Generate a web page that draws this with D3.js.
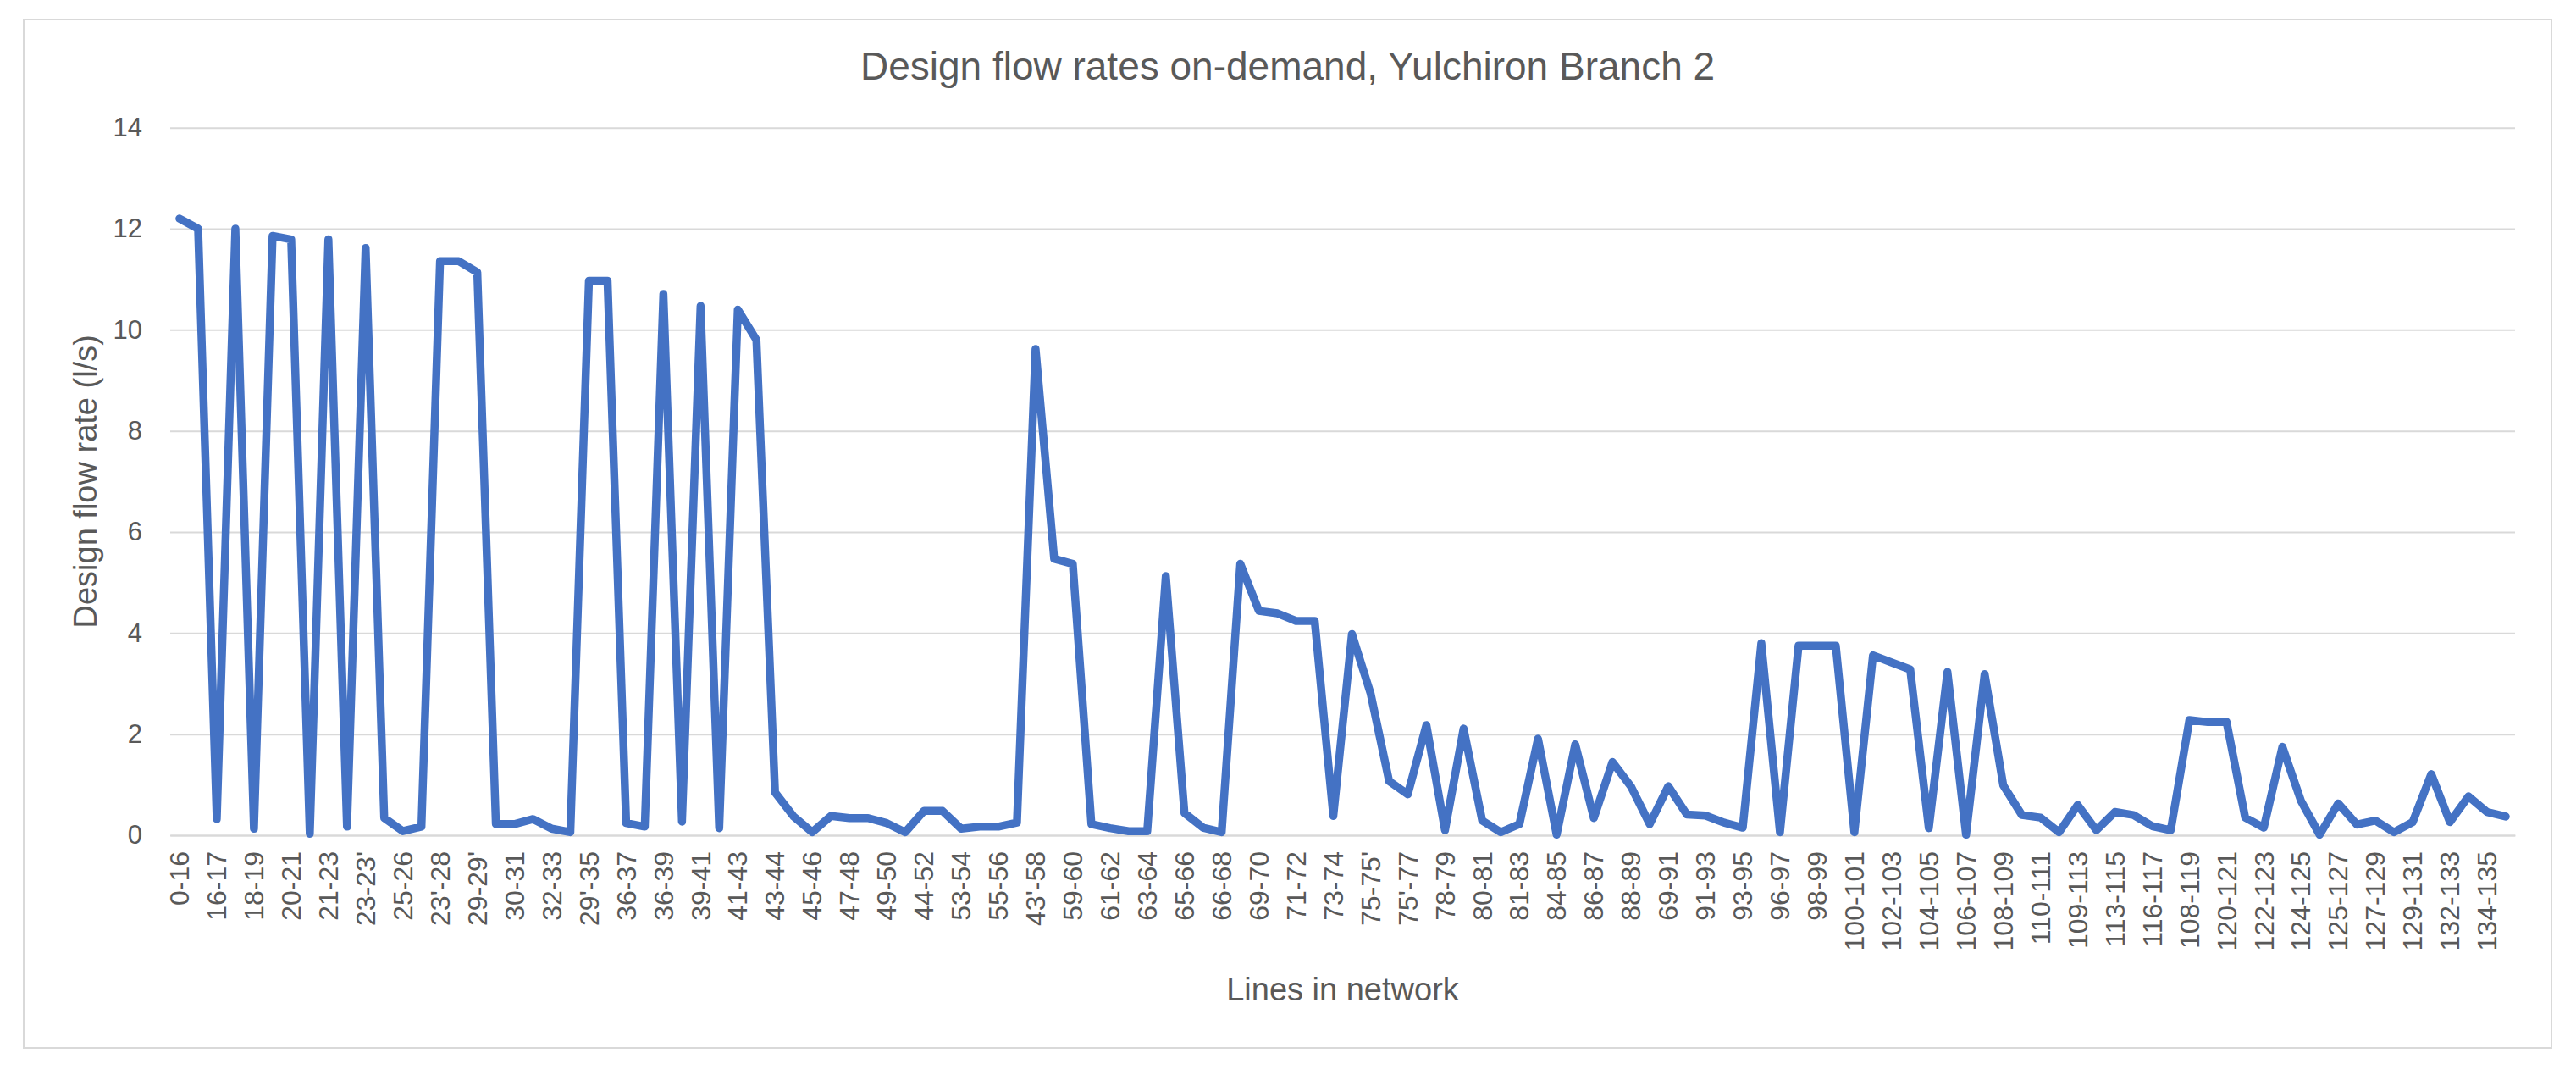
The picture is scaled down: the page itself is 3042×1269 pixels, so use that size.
<!DOCTYPE html>
<html>
<head>
<meta charset="utf-8">
<script src="https://cdnjs.cloudflare.com/ajax/libs/d3/7.8.5/d3.min.js"></script>
<style>
  body { margin: 0; background: #fff; }
  svg { display: block; font-family: "Liberation Sans", Arial, sans-serif; }
</style>
</head>
<body>
<svg id="chart"></svg>
<script>
// Labels shown on the axis (one on every second line of the network)
const tickLabels = [
  "0-16", "16-17", "18-19", "20-21", "21-23", "23-23'", "25-26", "23'-28", "29-29'",
  "30-31", "32-33", "29'-35", "36-37", "36-39", "39-41", "41-43", "43-44", "45-46",
  "47-48", "49-50", "44-52", "53-54", "55-56", "43'-58", "59-60", "61-62", "63-64",
  "65-66", "66-68", "69-70", "71-72", "73-74", "75-75'", "75'-77", "78-79", "80-81",
  "81-83", "84-85", "86-87", "88-89", "69-91", "91-93", "93-95", "96-97", "98-99",
  "100-101", "102-103", "104-105", "106-107", "108-109", "110-111", "109-113",
  "113-115", "116-117", "108-119", "120-121", "122-123", "124-125", "125-127",
  "127-129", "129-131", "132-133", "134-135"
];

// Design flow rate (l/s) for each line, in order
const flowRates = [
  12.2, 12.0, 0.32, 12.0, 0.13, 11.86, 11.79, 0.03, 11.79, 0.17, 11.62, 0.34, 0.08, 0.17, 11.36, 11.36,
  11.14, 0.22, 0.22, 0.32, 0.13, 0.06, 10.97, 10.97, 0.24, 0.17, 10.71, 0.27, 10.47, 0.14, 10.4, 9.8,
  0.85, 0.37, 0.06, 0.38, 0.34, 0.34, 0.24, 0.06, 0.48, 0.48, 0.13, 0.17, 0.17, 0.25, 9.62, 5.47,
  5.37, 0.22, 0.14, 0.08, 0.08, 5.13, 0.44, 0.15, 0.06, 5.37, 4.44, 4.39, 4.24, 4.24, 0.38, 3.98,
  2.81, 1.07, 0.81, 2.18, 0.10, 2.11, 0.29, 0.06, 0.22, 1.91, 0.01, 1.8, 0.34, 1.45, 0.96, 0.22,
  0.97, 0.41, 0.39, 0.25, 0.15, 3.8, 0.06, 3.75, 3.75, 3.75, 0.06, 3.56, 3.42, 3.28, 0.14, 3.23,
  0.01, 3.19, 0.99, 0.40, 0.35, 0.06, 0.6, 0.10, 0.46, 0.40, 0.18, 0.10, 2.28, 2.24, 2.24, 0.35,
  0.15, 1.75, 0.68, 0.01, 0.63, 0.21, 0.29, 0.06, 0.26, 1.21, 0.26, 0.77, 0.46, 0.37
];

const yTicks = [0, 2, 4, 6, 8, 10, 12, 14];

const title = "Design flow rates on-demand, Yulchiron Branch 2";
const xTitle = "Lines in network";
const yTitle = "Design flow rate (l/s)";

let width = 3042,
  height = 1269,
  margin = { top: 150.7, right: 72, bottom: 283, left: 201 },
  lineColor = "#4472C4",
  gridColor = "#d9d9d9",
  textColor = "#595959";

let svg = d3.select("#chart").attr("width", width).attr("height", height);

svg.append("rect")
  .attr("width", width).attr("height", height)
  .attr("fill", "#fff");

// chart border
svg.append("rect")
  .attr("x", 28).attr("y", 23)
  .attr("width", 3013 - 28).attr("height", 1237 - 23)
  .attr("fill", "none")
  .attr("stroke", gridColor)
  .attr("stroke-width", 2);

let plotW = width - margin.left - margin.right,
  plotH = height - margin.top - margin.bottom;

let g = svg.append("g")
  .attr("transform", "translate(" + margin.left + "," + margin.top + ")");

let xScale = d3.scaleBand()
  .domain(d3.range(flowRates.length))
  .range([0, plotW])
  .padding(0);

let yScale = d3.scaleLinear().domain([0, 14]).range([plotH, 0]);

// gridlines + y labels
let yAxis = d3.axisLeft(yScale).tickValues(yTicks).tickSize(-plotW).tickPadding(33);
let yG = g.append("g").call(yAxis);
yG.select(".domain").remove();
yG.selectAll(".tick line").attr("stroke", gridColor).attr("stroke-width", 2);
yG.selectAll(".tick text")
  .attr("fill", textColor)
  .style("font-size", "31px");

// category axis: show every second line label
let labelIndex = d3.range(0, flowRates.length, 2).slice(0, tickLabels.length);
let xAxis = d3.axisBottom(xScale)
  .tickValues(labelIndex)
  .tickFormat((d) => tickLabels[d / 2])
  .tickSize(0);

let xG = g.append("g")
  .attr("transform", "translate(0," + plotH + ")")
  .call(xAxis);
xG.select(".domain").attr("stroke", gridColor).attr("stroke-width", 2);
xG.selectAll(".tick text")
  .attr("fill", textColor)
  .style("font-size", "32px")
  .attr("text-anchor", "end")
  .attr("transform", "rotate(-90)")
  .attr("x", -19)
  .attr("y", 0)
  .attr("dy", "0.35em");

// the line
let line = d3.line()
  .x((d, i) => xScale(i) + xScale.bandwidth() / 2)
  .y((d) => yScale(d));

g.append("path")
  .datum(flowRates)
  .attr("fill", "none")
  .attr("stroke", lineColor)
  .attr("stroke-width", 9.5)
  .attr("stroke-linejoin", "round")
  .attr("stroke-linecap", "round")
  .attr("d", line);

// titles
svg.append("text")
  .text(title)
  .attr("x", 1520.5)
  .attr("y", 94)
  .attr("text-anchor", "middle")
  .attr("fill", textColor)
  .style("font-size", "46px");

svg.append("text")
  .text(xTitle)
  .attr("x", margin.left + plotW / 2)
  .attr("y", 1181)
  .attr("text-anchor", "middle")
  .attr("fill", textColor)
  .style("font-size", "38px");

svg.append("text")
  .text(yTitle)
  .attr("transform", "translate(114," + (margin.top + plotH / 2) + ") rotate(-90)")
  .attr("text-anchor", "middle")
  .attr("fill", textColor)
  .style("font-size", "38px");
</script>
</body>
</html>
